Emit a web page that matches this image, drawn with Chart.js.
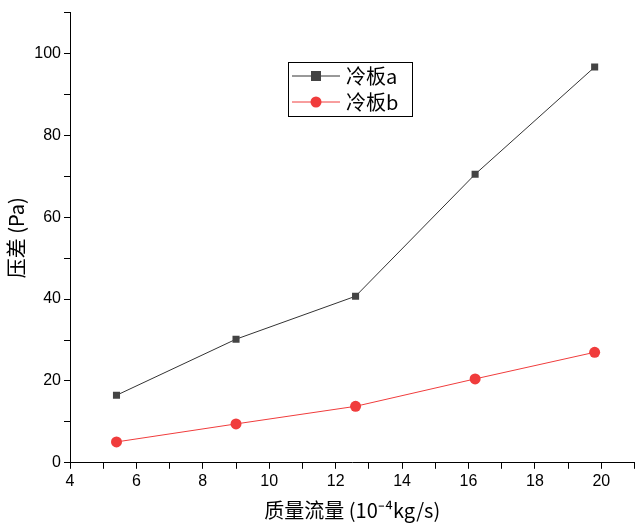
<!DOCTYPE html>
<html>
<head>
<script src="https://cdn.jsdelivr.net/npm/chart.js@4"></script>
<style>
  body { margin: 0; background: #fff; }
</style>
</head>
<body>
<canvas id="c" width="640" height="526"></canvas>
<script>
var flow = [5.4, 9, 12.6, 16.2, 19.8];
var plateA = [16.5, 30.2, 40.7, 70.5, 96.7];
var plateB = [5.1, 9.5, 13.8, 20.5, 27.0];
var seriesNames = ['冷板a', '冷板b'];

function pts(ys) {
    return flow.map(function(x, i) { return { x: x, y: ys[i] }; });
}

// legend box drawn inside the plot
var legendBox = {
    id: 'legendBox',
    afterDraw: function(chart) {
        var ctx = chart.ctx;
        ctx.save();
        ctx.strokeStyle = '#000';
        ctx.lineWidth = 1;
        ctx.strokeRect(288.5, 62.5, 124, 54);
        var items = [
            { y: 76, color: '#444', stroke: '#333', shape: 'rect' },
            { y: 102, color: '#f03c3c', stroke: '#f03c3c', shape: 'circle' }
        ];
        items.forEach(function(it, i) {
            ctx.strokeStyle = it.stroke;
            ctx.beginPath();
            ctx.moveTo(292, it.y);
            ctx.lineTo(340, it.y);
            ctx.stroke();
            ctx.fillStyle = it.color;
            if (it.shape === 'rect') {
                ctx.fillRect(311, it.y - 5, 10, 10);
            } else {
                ctx.beginPath();
                ctx.arc(316, it.y, 5.5, 0, Math.PI * 2);
                ctx.fill();
            }
            ctx.fillStyle = '#000';
            ctx.font = '20px "Noto Sans CJK SC"';
            ctx.textBaseline = 'middle';
            ctx.fillText(seriesNames[i], 346, it.y);
        });
        ctx.restore();
    }
};

new Chart('c', {
    type: 'line',
    data: {
        datasets: [{
            label: seriesNames[0],
            data: pts(plateA),
            borderColor: '#333',
            backgroundColor: '#444',
            borderWidth: 1,
            pointStyle: 'rect',
            pointRadius: 5,
            pointBorderWidth: 0
        }, {
            label: seriesNames[1],
            data: pts(plateB),
            borderColor: '#f03c3c',
            backgroundColor: '#f03c3c',
            borderWidth: 1,
            pointStyle: 'circle',
            pointRadius: 5.5,
            pointBorderWidth: 0
        }]
    },
    options: {
        responsive: false,
        animation: false,
        devicePixelRatio: 1,
        layout: { padding: { top: 3, right: 2, left: 0, bottom: 0 } },
        plugins: { legend: { display: false }, tooltip: { enabled: false } },
        scales: {
            x: {
                type: 'linear',
                min: 4, max: 21,
                border: { color: '#000', width: 1 },
                grid: { drawOnChartArea: false, color: '#000', tickLength: 6 },
                ticks: {
                    stepSize: 1,
                    autoSkip: false,
                    maxRotation: 0,
                    color: '#000',
                    font: { family: 'Liberation Sans', size: 16 },
                    callback: function(v) { return v % 2 === 0 && v <= 20 ? v : ''; }
                },
                title: {
                    display: true,
                    text: '质量流量 (10⁻⁴kg/s)',
                    color: '#000',
                    font: { family: 'Noto Sans CJK SC', size: 20 },
                    padding: { top: 4 }
                }
            },
            y: {
                min: 0, max: 110,
                afterFit: function(s) { s.width = 70; },
                border: { color: '#000', width: 1 },
                grid: { drawOnChartArea: false, color: '#000', tickLength: 6 },
                ticks: {
                    stepSize: 10,
                    autoSkip: false,
                    color: '#000',
                    font: { family: 'Liberation Sans', size: 16 },
                    callback: function(v) { return v % 20 === 0 && v <= 100 ? v : ''; }
                },
                title: {
                    display: true,
                    text: '压差 (Pa)',
                    color: '#000',
                    font: { family: 'Noto Sans CJK SC', size: 20 },
                    padding: { bottom: 2 }
                }
            }
        }
    },
    plugins: [legendBox]
});
</script>
</body>
</html>
